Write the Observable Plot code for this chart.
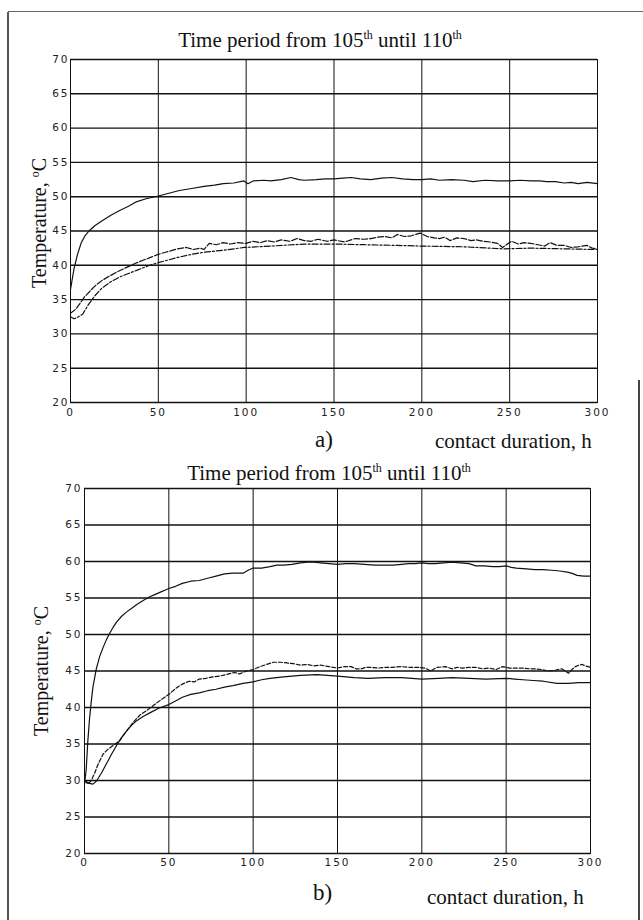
<!DOCTYPE html>
<html>
<head>
<meta charset="utf-8">
<script src="https://cdn.jsdelivr.net/npm/d3@7"></script>
<script src="https://cdn.jsdelivr.net/npm/@observablehq/plot@0.6"></script>
<style>
  body { margin: 0; background: #fff; }
  #page { position: relative; width: 643px; height: 920px; overflow: hidden; background: #fff;
          font-family: "Liberation Serif", "Times New Roman", serif; color: #111; }
  .abs { position: absolute; white-space: nowrap; line-height: 1; z-index: 3; }
  .title { font-size: 21px; transform: translateX(-50%); }
  .title sup { font-size: 12px; vertical-align: 0; position: relative; top: -8px; }
  .ylab { font-size: 20px; transform: translate(-50%, -50%) rotate(-90deg); }
  .ylab sup { font-size: 12px; vertical-align: 0; position: relative; top: -7px; }
  .panel { font-size: 23px; }
  .xlab { font-size: 21px; }
  .plot { position: absolute; left: 0; z-index: 1; }
  .border { position: absolute; z-index: 2; }
</style>
</head>
<body>
<div id="page">
  <div class="border" style="left:7px;top:12px;height:908px;border-left:2px solid #555;"></div>
  <div class="border" style="left:8px;top:11px;width:635px;border-top:1.5px solid #666;"></div>
  <div class="border" style="left:638px;top:380px;height:540px;border-left:2px solid #444;"></div>

  <div class="abs title" style="left:320px;top:30px;">Time period from 105<sup>th</sup> until 110<sup>th</sup></div>
  <div class="abs ylab" style="left:39px;top:223px;">Temperature, <sup>o</sup>C</div>
  <div id="plotA" class="plot" style="top:52px;"></div>
  <div class="abs panel" style="left:315px;top:428px;">a)</div>
  <div class="abs xlab" style="left:435px;top:431px;">contact duration, h</div>

  <div class="abs title" style="left:329px;top:463px;">Time period from 105<sup>th</sup> until 110<sup>th</sup></div>
  <div class="abs ylab" style="left:41px;top:671px;">Temperature, <sup>o</sup>C</div>
  <div id="plotB" class="plot" style="top:481px;"></div>
  <div class="abs panel" style="left:313px;top:881px;">b)</div>
  <div class="abs xlab" style="left:427px;top:887px;">contact duration, h</div>
</div>
<script>
// ---------- tick values ----------
const ticksX = [0, 50, 100, 150, 200, 250, 300];
const ticksY = [20, 25, 30, 35, 40, 45, 50, 55, 60, 65, 70];

// ---------- panel a ----------
// upper curve (solid)
const hoursA1 = [0,2,4,6,8,10.5,14,18,23,28,33,37,43,50,56,62,69,76,82,87,93,98.7,101,104,110,114,120,125.5,130,133,140,145,150,155,160,165,171,177,183,189,195,200,205,210,217,224,229,236,243,250,256,262,267,271,276,281,285,289,294,300];
const tempA1  = [36.5,39.5,41.6,43.2,44.2,45.0,45.8,46.5,47.3,48.0,48.6,49.2,49.7,50.1,50.5,50.9,51.2,51.5,51.7,51.9,52.0,52.3,51.9,52.3,52.4,52.3,52.5,52.8,52.5,52.4,52.5,52.6,52.6,52.7,52.8,52.6,52.5,52.7,52.8,52.6,52.5,52.5,52.6,52.4,52.5,52.4,52.2,52.4,52.3,52.3,52.4,52.3,52.3,52.2,52.2,52.0,52.1,51.9,52.1,51.9];
// middle noisy curve (dashed)
const hoursA2 = [0,3,5,8,11,14,18,22,27,32,37,42,46,50,54,57,61,66,70,74,76,79,83,87,91,95,100,104,108,112,116,120,125,129,133,137,141,146,150,156,162,167,171,175,179,183,186,190,194,199,203,207,210,213,216,220,224,228,231,235,239,243,246,251,255,258,262,266,270,273,277,281,285,289,294,297,300];
const tempA2  = [33.0,33.6,34.3,35.4,36.2,37.0,37.8,38.4,39.1,39.7,40.3,40.8,41.2,41.6,41.9,42.1,42.4,42.6,42.3,42.5,42.3,43.2,43.0,43.3,43.1,43.3,43.2,43.5,43.3,43.6,43.4,43.7,43.5,43.9,43.6,43.5,43.8,43.5,43.7,43.4,43.9,43.8,43.9,44.1,44.2,44.0,44.5,44.2,44.3,44.7,44.2,44.0,43.9,44.1,43.6,44.0,43.9,43.6,43.7,43.5,43.4,43.2,42.6,43.5,43.1,43.3,43.2,43.0,42.8,43.3,42.9,42.9,42.6,42.7,42.9,42.5,42.4];
// lower smooth curve (dash-dot)
const hoursA3 = [0,2,4,7,10,14,18,23,28,33,38,44,50,56,62,69,76,87,99,114,133,150,167,186,200,224,246,262,281,300];
const tempA3  = [32.5,32.2,32.4,32.9,34.2,35.6,36.7,37.6,38.3,38.8,39.3,39.9,40.4,40.8,41.2,41.6,41.9,42.2,42.6,42.8,43.1,43.1,43.0,42.9,42.8,42.7,42.4,42.5,42.4,42.3];

// ---------- panel b ----------
const hoursB1 = [0,1,2,3,4,5,7,9,11,13,15,17,19,22,25,28,31,35,39,42,45,48,50,54,58,63,68,73,78,83,88,94,97,100,105,110,114,118,123,128,132,136,140,145,150,155,160,166,172,178,183,188,192,196,200,204,208,213,218,223,228,232,237,242,246,250,253,256,262,267,272,277,282,287,290,292,296,300];
const tempB1  = [29.5,31.5,35.5,38.5,40.8,42.8,45.3,47.0,48.2,49.3,50.2,51.0,51.7,52.5,53.1,53.6,54.1,54.7,55.2,55.5,55.8,56.1,56.3,56.6,57.0,57.3,57.4,57.7,58.0,58.3,58.4,58.4,58.8,59.1,59.1,59.3,59.5,59.5,59.6,59.8,59.9,59.9,59.8,59.7,59.6,59.7,59.7,59.6,59.5,59.5,59.5,59.6,59.7,59.7,59.8,59.7,59.7,59.8,59.9,59.8,59.7,59.4,59.4,59.3,59.3,59.4,59.2,59.1,59.0,58.9,58.9,58.8,58.7,58.5,58.3,58.1,58.0,58.0];
const hoursB2 = [0,2,4,6,8,11,14,17,21,25,29,33,37,41,45,50,54,58,62,65,68,72,76,80,84,89,92,96,100,104,108,112,116,120,124,128,132,136,140,145,150,154,158,161,164,167,170,174,178,182,188,193,198,202,205,209,214,218,221,224,228,232,236,240,244,248,252,256,260,264,267,271,275,279,283,285,287,289,291,293,295,297,300];
const tempB2  = [30.0,29.5,30.0,31.0,32.2,33.6,34.3,34.8,35.5,36.8,38.0,39.0,39.6,40.3,41.0,41.8,42.6,43.2,43.6,43.5,43.9,44.0,44.2,44.3,44.5,44.8,44.6,45.0,45.2,45.6,45.9,46.2,46.2,46.1,46.0,45.8,45.9,45.7,45.8,45.6,45.4,45.6,45.6,45.3,45.3,45.5,45.5,45.4,45.5,45.5,45.6,45.5,45.5,45.4,45.0,45.5,45.6,45.3,45.5,45.4,45.5,45.5,45.3,45.4,45.2,45.6,45.4,45.4,45.4,45.3,45.3,45.2,45.0,45.1,45.3,45.0,44.7,45.2,45.6,45.8,45.9,45.7,45.5];
const hoursB3 = [0,3,5,7,10,13,16,19,22,25,28,31,35,39,44,50,54,58,63,68,73,78,83,88,94,100,105,110,118,128,138,150,160,168,178,188,200,210,218,228,238,250,255,260,266,272,280,287,293,300];
const tempB3  = [30.0,29.6,29.5,29.9,31.0,32.3,33.6,34.8,35.9,36.8,37.6,38.2,38.8,39.3,39.9,40.4,40.9,41.4,41.8,42.0,42.3,42.5,42.8,43.0,43.3,43.5,43.8,44.0,44.2,44.4,44.5,44.3,44.1,44.0,44.1,44.1,43.9,44.0,44.1,44.0,43.9,44.0,43.9,43.8,43.7,43.6,43.3,43.3,43.4,43.4];

function rows(xs, ys) { return xs.map((h, i) => ({h, t: ys[i]})); }

function makePanel({series, marginLeft, marginRight, height, marginBottom, tickPadY, tickPadX}) {
  return Plot.plot({
    width: 643,
    height,
    marginLeft,
    marginRight,
    marginTop: 7,
    marginBottom,
    style: {fontFamily: "'DejaVu Sans', sans-serif", fontSize: "10.5px", letterSpacing: "2px", color: "#222", background: "transparent"},
    x: {domain: [0, 300], ticks: ticksX, tickSize: 0, tickPadding: tickPadX, label: null},
    y: {domain: [20, 70], ticks: ticksY, tickSize: 0, tickPadding: tickPadY, label: null},
    marks: [
      Plot.ruleY(ticksY, {stroke: "#111", strokeWidth: 1.4}),
      Plot.ruleX(ticksX, {stroke: "#111", strokeWidth: 1}),
      Plot.frame({stroke: "#111", strokeWidth: 1}),
      ...series.map(s => Plot.line(rows(s.x, s.y), {x: "h", y: "t", stroke: "#111", strokeWidth: 1.2, strokeDasharray: s.dash}))
    ]
  });
}

document.getElementById("plotA").append(makePanel({
  series: [
    {x: hoursA1, y: tempA1, dash: null},
    {x: hoursA2, y: tempA2, dash: "6,2"},
    {x: hoursA3, y: tempA3, dash: "6,2,2,2"}
  ],
  marginLeft: 70, marginRight: 46, height: 370, marginBottom: 20, tickPadY: 1, tickPadX: 6
}));

document.getElementById("plotB").append(makePanel({
  series: [
    {x: hoursB1, y: tempB1, dash: null},
    {x: hoursB2, y: tempB2, dash: "4,2"},
    {x: hoursB3, y: tempB3, dash: null}
  ],
  marginLeft: 84, marginRight: 53, height: 392, marginBottom: 20, tickPadY: 2, tickPadX: 5
}));
</script>
</body>
</html>
